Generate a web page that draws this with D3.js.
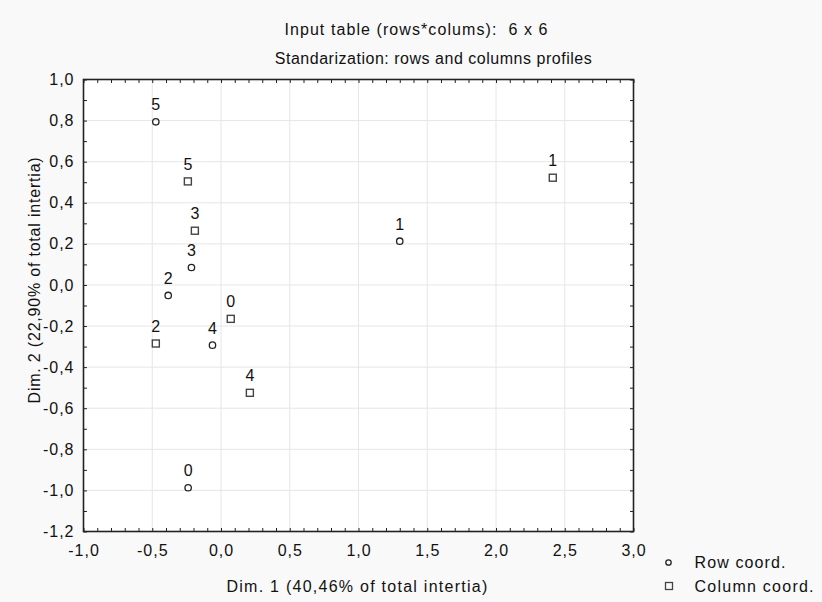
<!DOCTYPE html>
<html><head><meta charset="utf-8">
<script src="https://cdn.jsdelivr.net/npm/d3@7"></script>
<style>body{margin:0;background:#f9f9f9;} text{font-family:"Liberation Sans",Arial,sans-serif;fill:#111;white-space:pre;}</style>
</head><body>
<script>
const titleLines = ["Input table (rows*colums):  6 x 6", "Standarization: rows and columns profiles"];
const xLabel = "Dim. 1 (40,46% of total intertia)";
const yLabel = "Dim. 2 (22,90% of total intertia)";
const rowLabels = ["0","1","2","3","4","5"];
const rowX = [-0.239, 1.30, -0.384, -0.215, -0.062, -0.474];
const rowY = [-0.987, 0.213, -0.051, 0.085, -0.293, 0.794];
const colLabels = ["0","1","2","3","4","5"];
const colX = [0.071, 2.413, -0.474, -0.19, 0.21, -0.241];
const colY = [-0.165, 0.522, -0.285, 0.264, -0.525, 0.504];
const xTicks = [-1.0,-0.5,0,0.5,1.0,1.5,2.0,2.5,3.0];
const yTicks = [-1.2,-1.0,-0.8,-0.6,-0.4,-0.2,0,0.2,0.4,0.6,0.8,1.0];
const legendItems = ["Row coord.", "Column coord."];

const W=822,H=602, L=83.5, R=633.5, T=79.5, B=531.5;
const FONT="Liberation Sans, Arial, sans-serif";
const svg=d3.select("body").append("svg").attr("width",W).attr("height",H);
svg.append("rect").attr("width",W).attr("height",H).attr("fill","#f9f9f9");
const x=d3.scaleLinear().domain([-1,3]).range([L,R]);
const y=d3.scaleLinear().domain([-1.2,1.0]).range([B,T]);
const fmt=v=>d3.format(".1f")(v).replace(".",",").replace("−","-");

// fit text width via letter-spacing
function fit(sel, target){
  sel.each(function(){
    const n=this.textContent.length;
    const nat=this.getComputedTextLength();
    d3.select(this).attr("letter-spacing", ((target-nat)/(n-1)).toFixed(2));
  });
}

svg.append("rect").attr("x",L).attr("y",T).attr("width",R-L).attr("height",B-T).attr("fill","#fff");
// grid
svg.append("g").selectAll("line").data(xTicks.slice(1,-1)).join("line")
  .attr("x1",d=>x(d)).attr("x2",d=>x(d)).attr("y1",T).attr("y2",B).attr("stroke","#e6e6e6");
svg.append("g").selectAll("line").data(yTicks.slice(1,-1)).join("line")
  .attr("y1",d=>y(d)).attr("y2",d=>y(d)).attr("x1",L).attr("x2",R).attr("stroke","#e6e6e6");

// ticks (inward) via d3 axes
const xMinor=d3.range(-10,31).map(i=>i/10);
const yMinor=d3.range(-12,11).map(i=>i/10);
function addAxis(axis, tr){ const g=svg.append("g").attr("transform",tr).call(axis); g.select(".domain").remove(); g.selectAll("line").attr("stroke","#222"); return g;}
addAxis(d3.axisBottom(x).tickValues(xMinor).tickSize(-3.5).tickFormat(""),`translate(0,${B})`);
addAxis(d3.axisTop(x).tickValues(xMinor).tickSize(-3.5).tickFormat(""),`translate(0,${T})`);
addAxis(d3.axisLeft(y).tickValues(yMinor).tickSize(-3.5).tickFormat(""),`translate(${L},0)`);
addAxis(d3.axisRight(y).tickValues(yMinor).tickSize(-3.5).tickFormat(""),`translate(${R},0)`);
// major tick labels
const gx=addAxis(d3.axisBottom(x).tickValues(xTicks).tickSize(0).tickPadding(13).tickFormat(fmt),`translate(0,${B})`);
gx.selectAll("text").attr("font-size",16).attr("font-family",FONT).attr("fill","#111").attr("letter-spacing",1);
const gy=addAxis(d3.axisLeft(y).tickValues(yTicks).tickSize(0).tickPadding(9).tickFormat(fmt),`translate(${L},0)`);
gy.selectAll("text").attr("font-size",16).attr("font-family",FONT).attr("fill","#111").attr("letter-spacing",1);
svg.append("rect").attr("x",L).attr("y",T).attr("width",R-L).attr("height",B-T).attr("fill","none").attr("stroke","#222").attr("stroke-width",1.6);

// titles
const titleCx=[416.5,433.5], titleW=[263,317], titleY=[35,64];
svg.selectAll(".tt").data(titleLines).join("text").attr("class","tt").attr("x",(d,i)=>titleCx[i]).attr("y",(d,i)=>titleY[i])
  .attr("text-anchor","middle").attr("font-size",16).text(d=>d)
  .each(function(d,i){ fit(d3.select(this), titleW[i]); });
fit(svg.append("text").attr("x",357.5).attr("y",592).attr("text-anchor","middle").attr("font-size",16).text(xLabel), 261);
fit(svg.append("text").attr("transform","translate(40,280) rotate(-90)").attr("text-anchor","middle").attr("font-size",16).text(yLabel), 246);

// points
const rows=rowLabels.map((l,i)=>({l,x:rowX[i],y:rowY[i]}));
const cols=colLabels.map((l,i)=>({l,x:colX[i],y:colY[i]}));
svg.append("g").selectAll("circle").data(rows).join("circle").attr("cx",d=>x(d.x)).attr("cy",d=>y(d.y)).attr("r",3.2)
  .attr("fill","none").attr("stroke","#222").attr("stroke-width",1.3);
svg.append("g").selectAll("rect").data(cols).join("rect").attr("x",d=>x(d.x)-3.5).attr("y",d=>y(d.y)-3.5).attr("width",7).attr("height",7)
  .attr("fill","none").attr("stroke","#444").attr("stroke-width",1.4);
svg.append("g").selectAll("text").data(rows.concat(cols)).join("text").attr("x",d=>x(d.x)).attr("y",d=>y(d.y)-11.5)
  .attr("text-anchor","middle").attr("font-size",16).text(d=>d.l);

// legend
const lg=svg.append("g");
lg.append("circle").attr("cx",668.5).attr("cy",562.5).attr("r",2.7).attr("fill","none").attr("stroke","#222").attr("stroke-width",1.3);
lg.append("rect").attr("x",665.5).attr("y",582.5).attr("width",7).attr("height",7).attr("fill","none").attr("stroke","#444").attr("stroke-width",1.3);
const legW=[91,119];
lg.selectAll("text").data(legendItems).join("text").attr("x",694.5).attr("y",(d,i)=>568+i*24.3).attr("font-size",16).text(d=>d)
  .each(function(d,i){ fit(d3.select(this), legW[i]); });
</script>
</body></html>
